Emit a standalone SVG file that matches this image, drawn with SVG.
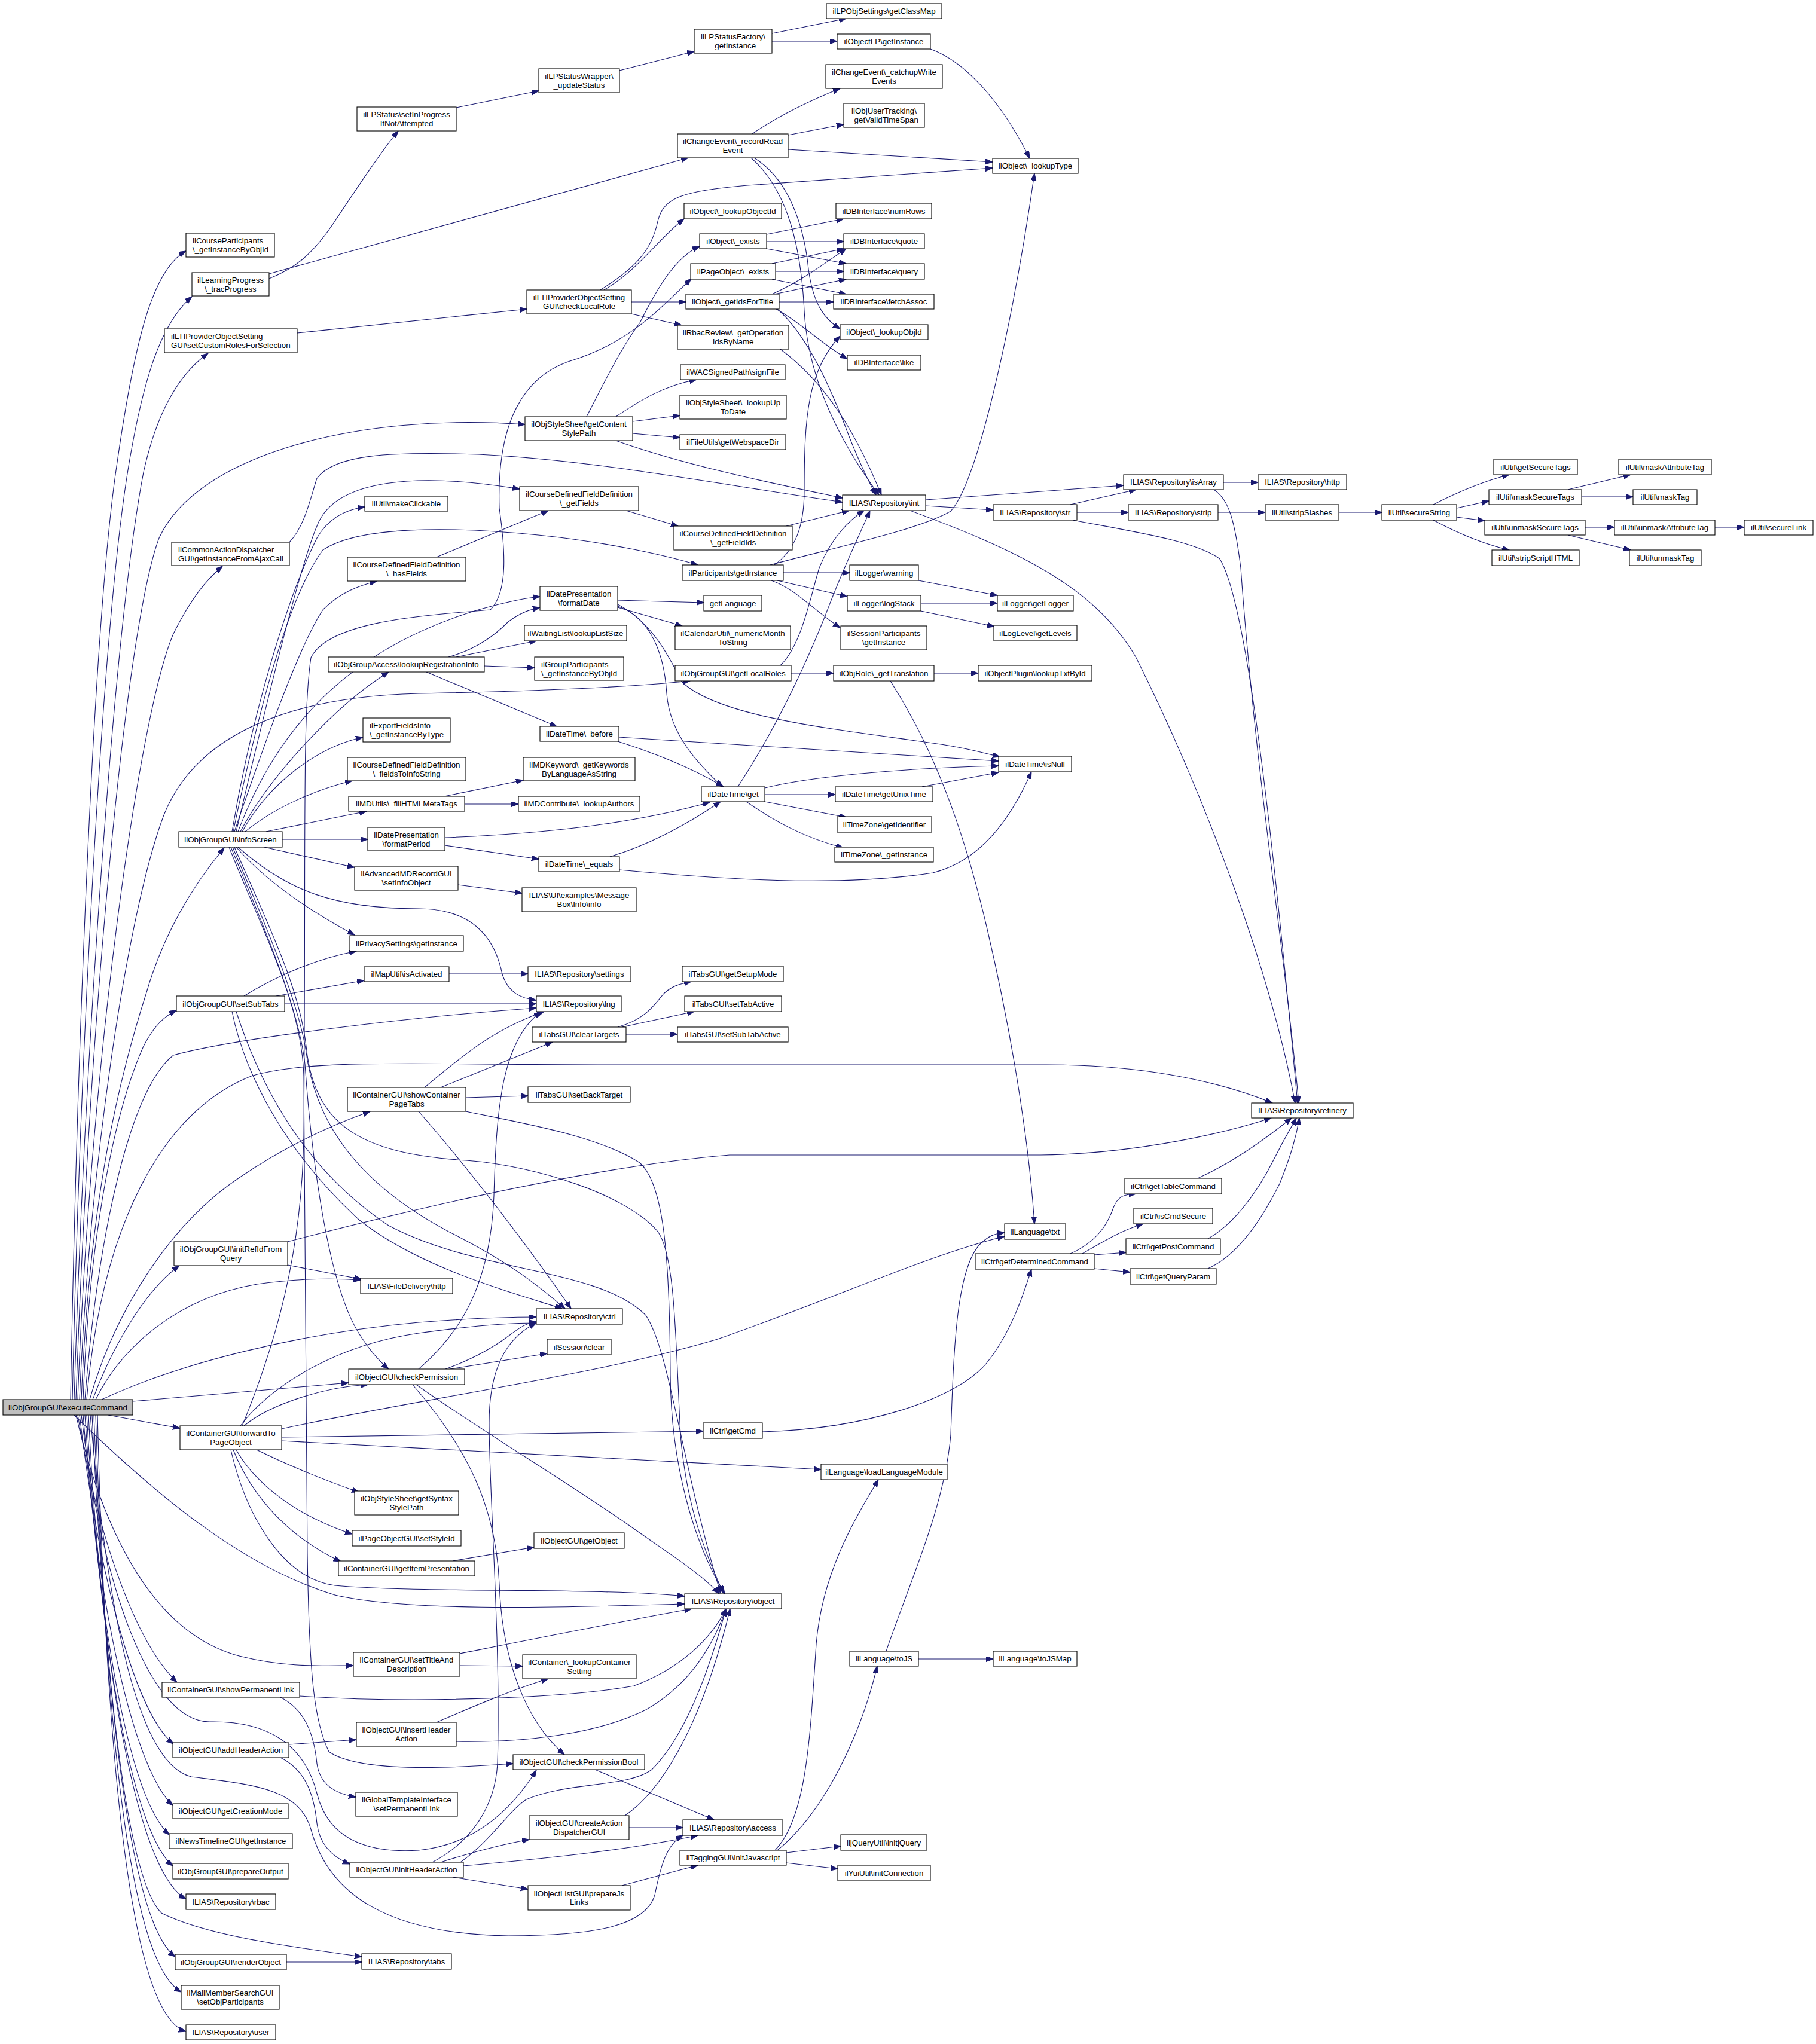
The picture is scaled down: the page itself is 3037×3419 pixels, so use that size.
<svg xmlns="http://www.w3.org/2000/svg" width="3037" height="3419" viewBox="0 0 3037 3419">
<defs>
<marker id="a" markerUnits="userSpaceOnUse" markerWidth="13" markerHeight="10" refX="12" refY="4.5" orient="auto"><path d="M0,0 L12,4.5 L0,9 z" fill="#191970" stroke="#191970" stroke-width="1"/></marker>
</defs>
<style>
.n rect{fill:#fff;stroke:#000;stroke-width:1.1}
.r rect{fill:#bfbfbf;stroke:#000;stroke-width:1.1}
text{font-family:"Liberation Sans",Arial,Helvetica,sans-serif;font-size:13.3px;fill:#000}
.c{text-anchor:middle}
#edges path{fill:none;stroke:#191970;stroke-width:1.1;marker-end:url(#a)}
</style>
<rect width="3037" height="3419" fill="#fff"/>
<g id="edges">
<path d="M118,2341 C128,1800 155,1050 195,780 C225,570 255,450 311,420"/>
<path d="M121,2341 C133,1800 170,1050 215,780 C240,630 270,540 321,496"/>
<path d="M124,2341 C140,1800 190,1050 240,790 C262,690 300,625 348,591"/>
<path d="M127,2341 C150,1700 210,1050 266,900 C330,760 600,690 878,710"/>
<path d="M130,2341 C150,1800 230,1200 290,1060 C320,1000 345,970 372,947"/>
<path d="M133,2341 C150,1950 210,1550 268,1380 C320,1220 500,1165 700,1160 C900,1156 1050,1150 1154,1139"/>
<path d="M136,2341 C150,2000 200,1800 245,1660 C280,1540 340,1460 375,1418"/>
<path d="M139,2341 C150,2050 195,1850 240,1750 C258,1715 275,1700 295,1690"/>
<path d="M142,2341 C165,2050 220,1820 290,1765 C400,1735 700,1700 897,1686"/>
<path d="M145,2341 C170,2050 270,1860 420,1800 C520,1770 700,1781 1000,1781 L1750,1781 C1900,1781 2030,1805 2128,1845"/>
<path d="M150,2341 C190,2200 280,2050 400,1970 C480,1915 560,1880 619,1859"/>
<path d="M155,2341 C185,2260 240,2160 300,2117"/>
<path d="M160,2341 C205,2250 300,2170 430,2148 C500,2138 560,2138 603,2141"/>
<path d="M170,2341 C300,2280 500,2230 700,2212 C800,2204 860,2203 897,2203"/>
<path d="M222,2344 L583,2313"/>
<path d="M181,2367 L301,2389"/>
<path d="M124,2367 C250,2490 400,2620 560,2668 C700,2700 1000,2686 1145,2683"/>
<path d="M127,2367 C170,2550 250,2730 400,2770 C480,2790 540,2786 591,2786"/>
<path d="M130,2367 C160,2550 220,2740 296,2814"/>
<path d="M133,2367 C160,2600 220,2860 290,2917"/>
<path d="M136,2367 C170,2650 250,2880 350,2880 C450,2878 510,2920 530,3000 C550,3080 620,3100 700,3095 C800,3085 860,3020 897,2961"/>
<path d="M139,2367 C165,2700 225,2960 289,3020"/>
<path d="M142,2367 C168,2750 220,3010 283,3069"/>
<path d="M145,2367 C170,2800 228,3070 289,3121"/>
<path d="M148,2367 C172,2850 240,3140 311,3176"/>
<path d="M151,2367 C180,2700 230,2950 320,2972 C420,2985 500,2990 520,3060 C550,3170 650,3235 850,3238 C1000,3238 1080,3220 1095,3170 C1105,3120 1115,3085 1142,3070"/>
<path d="M154,2367 C180,2900 220,3150 270,3200 C350,3240 500,3258 605,3273"/>
<path d="M157,2367 C180,2950 230,3225 293,3273"/>
<path d="M160,2367 C180,3000 230,3290 303,3332"/>
<path d="M163,2367 C180,3050 230,3375 311,3398"/>
<path d="M388,1391 C420,1200 480,1000 530,900 C550,865 580,852 610,848"/>
<path d="M392,1391 C440,1250 500,1080 540,1020 C570,990 600,980 630,972"/>
<path d="M395,1391 C440,1200 500,950 530,880 C560,800 700,790 869,818"/>
<path d="M398,1391 C470,1200 600,1080 800,1020 C850,1006 880,1000 903,998"/>
<path d="M402,1391 C450,1300 560,1180 650,1124"/>
<path d="M390,1391 C430,1200 480,1000 540,920 C600,880 750,880 900,895 C1000,905 1100,925 1167,945"/>
<path d="M405,1391 C450,1310 530,1250 607,1233"/>
<path d="M410,1391 C460,1350 530,1320 589,1306"/>
<path d="M445,1391 L613,1357"/>
<path d="M472,1404 L615,1404"/>
<path d="M442,1417 L593,1451"/>
<path d="M395,1417 C450,1480 530,1530 593,1564"/>
<path d="M398,1417 C480,1490 560,1520 700,1520 C800,1520 830,1580 840,1630 C850,1660 870,1670 897,1673"/>
<path d="M392,1417 C450,1550 500,1650 512,1750 C525,1880 600,1930 780,1941 C900,1950 1050,2000 1100,2060 C1130,2100 1130,2250 1138,2400 C1148,2520 1180,2600 1210,2665"/>
<path d="M389,1417 C450,1560 500,1680 512,1760 C528,1880 600,1980 750,2060 C850,2110 900,2150 945,2189"/>
<path d="M386,1417 C450,1570 500,1690 510,1780 C522,1950 550,2150 600,2230 C620,2262 638,2280 650,2290"/>
<path d="M383,1417 C440,1560 505,1680 508,1800 L514,2600 C517,2800 525,2880 550,2930 C600,2965 750,2958 858,2950"/>
<path d="M408,1666 C450,1640 520,1605 596,1591"/>
<path d="M462,1666 L609,1640"/>
<path d="M476,1679 L897,1679"/>
<path d="M388,1692 C410,1800 480,1930 600,2040 C700,2120 850,2160 940,2189"/>
<path d="M395,1692 C430,1800 500,1950 650,2050 C800,2130 1000,2120 1080,2200 C1120,2260 1140,2450 1205,2665"/>
<path d="M753,2290 L915,2264"/>
<path d="M745,2290 C800,2270 830,2250 850,2235 C870,2220 880,2213 897,2211"/>
<path d="M700,2290 C770,2230 820,2150 826,2000 C830,1850 840,1740 905,1692"/>
<path d="M696,2316 C800,2390 950,2480 1050,2550 C1120,2600 1170,2630 1203,2666"/>
<path d="M690,2316 C780,2420 830,2520 835,2650 C840,2780 880,2880 944,2935"/>
<path d="M737,1819 L924,1743"/>
<path d="M779,1836 L883,1833"/>
<path d="M710,1819 C780,1760 830,1720 910,1692"/>
<path d="M700,1859 C780,1950 880,2080 955,2189"/>
<path d="M779,1859 C880,1880 1000,1900 1070,1945 C1110,1980 1120,2100 1121,2300 C1122,2450 1160,2580 1212,2666"/>
<path d="M481,2116 L605,2140"/>
<path d="M481,2077 C700,2020 1000,1950 1220,1932 L1740,1932 C1900,1930 2050,1895 2126,1870"/>
<path d="M408,2385 C450,2350 540,2320 616,2316"/>
<path d="M402,2385 C450,2320 560,2250 700,2230 C800,2216 860,2213 897,2213"/>
<path d="M471,2390 C700,2340 1000,2300 1200,2240 C1400,2170 1550,2100 1680,2068"/>
<path d="M471,2404 L1176,2394"/>
<path d="M471,2410 C900,2430 1200,2450 1373,2458"/>
<path d="M429,2425 C480,2450 540,2475 600,2496"/>
<path d="M395,2425 C420,2470 480,2530 589,2566"/>
<path d="M390,2425 C420,2500 480,2570 570,2612"/>
<path d="M386,2425 C410,2530 470,2640 560,2652 C700,2665 1000,2655 1145,2670"/>
<path d="M405,2385 C460,2250 505,2100 508,1900 C512,1400 505,1200 520,1100 C550,1040 700,1030 820,1020 C850,990 845,920 835,850 C830,700 880,630 950,605 C1050,575 1100,520 1156,466"/>
<path d="M1315,3099 L1406,3088"/>
<path d="M1315,3116 L1401,3126"/>
<path d="M1300,3095 C1380,3030 1440,2900 1467,2787"/>
<path d="M1296,3095 C1350,3040 1355,2900 1365,2750 C1375,2630 1430,2540 1469,2475"/>
<path d="M1536,2775 L1661,2775"/>
<path d="M1482,2762 C1520,2650 1580,2520 1590,2400 C1595,2250 1600,2120 1640,2080 C1655,2066 1665,2063 1680,2062"/>
<path d="M1040,3154 L1167,3120"/>
<path d="M757,3140 L883,3160"/>
<path d="M775,3121 C900,3110 1050,3095 1167,3070"/>
<path d="M737,3115 C800,3095 840,3085 885,3077"/>
<path d="M770,3115 C820,3080 850,3030 880,3010 C950,2980 1050,2990 1090,2960 C1150,2900 1190,2780 1214,2691"/>
<path d="M723,3115 C790,3080 828,3020 832,2950 C838,2750 818,2500 818,2380 C818,2300 840,2240 897,2213"/>
<path d="M1052,3057 L1142,3057"/>
<path d="M1045,3037 C1100,3000 1170,2900 1221,2691"/>
<path d="M995,2960 L1194,3044"/>
<path d="M483,2918 L596,2910"/>
<path d="M469,2940 C510,2960 525,3000 530,3050 C535,3090 560,3108 585,3118"/>
<path d="M730,2881 C790,2855 860,2825 917,2808"/>
<path d="M763,2913 C880,2915 1000,2900 1080,2860 C1150,2820 1190,2760 1214,2691"/>
<path d="M769,2766 C900,2740 1050,2710 1157,2691"/>
<path d="M769,2786 L874,2787"/>
<path d="M501,2837 C700,2850 950,2840 1060,2820 C1140,2790 1190,2740 1214,2691"/>
<path d="M469,2839 C510,2860 525,2900 530,2950 C535,2985 560,3000 595,3006"/>
<path d="M479,3282 L605,3282"/>
<path d="M757,2611 L893,2588"/>
<path d="M450,466 C490,450 520,430 560,370 C600,310 640,250 666,219"/>
<path d="M450,458 L1151,264"/>
<path d="M763,180 L901,152"/>
<path d="M1036,118 L1161,86"/>
<path d="M1291,56 L1415,31"/>
<path d="M1291,69 L1400,69"/>
<path d="M1556,82 C1620,105 1680,180 1722,265"/>
<path d="M1258,224 C1300,195 1350,170 1405,148"/>
<path d="M1318,226 L1411,208"/>
<path d="M1318,250 L1660,271"/>
<path d="M1261,264 C1320,300 1345,380 1352,450 C1360,510 1380,535 1405,550"/>
<path d="M1256,264 C1320,320 1340,420 1345,520 C1352,650 1420,760 1470,828"/>
<path d="M1004,485 C1060,450 1090,420 1100,370 C1110,330 1140,320 1250,310 C1400,300 1550,290 1660,281"/>
<path d="M1010,485 C1070,450 1100,400 1144,366"/>
<path d="M1056,505 L1147,505"/>
<path d="M1056,525 L1140,544"/>
<path d="M497,557 L881,517"/>
<path d="M1282,392 L1411,366"/>
<path d="M1282,404 L1411,404"/>
<path d="M1282,416 L1415,441"/>
<path d="M1291,441 L1411,416"/>
<path d="M1297,454 L1411,454"/>
<path d="M1291,467 L1415,492"/>
<path d="M1291,492 C1340,470 1380,440 1415,416"/>
<path d="M1295,492 L1415,467"/>
<path d="M1303,505 L1394,505"/>
<path d="M1298,517 C1340,540 1380,580 1417,600"/>
<path d="M1300,517 C1350,560 1390,650 1420,730 C1440,780 1455,810 1465,828"/>
<path d="M1305,584 C1380,640 1430,720 1474,828"/>
<path d="M1030,697 C1070,670 1110,645 1165,635"/>
<path d="M1058,705 L1137,695"/>
<path d="M1058,725 L1137,732"/>
<path d="M1030,737 C1150,780 1300,810 1409,833"/>
<path d="M981,697 C1010,640 1040,580 1070,540 C1100,480 1130,430 1170,412"/>
<path d="M1047,854 L1134,880"/>
<path d="M730,932 L917,854"/>
<path d="M1315,880 L1420,854"/>
<path d="M1548,836 L1879,812"/>
<path d="M1548,846 L1661,853"/>
<path d="M1522,854 C1700,920 1830,980 1900,1100 C2000,1300 2120,1600 2166,1845"/>
<path d="M1790,844 L1900,819"/>
<path d="M1801,857 L1887,857"/>
<path d="M1794,870 C1900,890 2000,905 2040,935 C2080,1000 2120,1300 2170,1845"/>
<path d="M2046,807 L2104,807"/>
<path d="M2030,819 C2055,835 2065,870 2075,950 C2100,1300 2150,1600 2172,1845"/>
<path d="M2037,857 L2116,857"/>
<path d="M2239,857 L2311,857"/>
<path d="M2397,844 C2440,822 2480,805 2524,794"/>
<path d="M2436,850 L2490,838"/>
<path d="M2436,865 L2483,871"/>
<path d="M2397,870 C2440,893 2480,910 2524,920"/>
<path d="M2622,819 L2727,794"/>
<path d="M2645,831 L2731,831"/>
<path d="M2651,882 L2700,882"/>
<path d="M2622,895 L2727,920"/>
<path d="M2868,882 L2917,882"/>
<path d="M1310,958 L1421,958"/>
<path d="M1300,971 L1417,998"/>
<path d="M1290,971 C1330,985 1360,1020 1405,1050"/>
<path d="M1288,945 C1400,915 1540,885 1590,855 C1640,800 1700,500 1730,290"/>
<path d="M1295,945 C1330,920 1345,880 1345,820 C1345,700 1350,620 1405,562"/>
<path d="M1536,971 L1668,996"/>
<path d="M1540,1009 L1668,1009"/>
<path d="M1540,1022 L1663,1048"/>
<path d="M1033,1004 L1177,1008"/>
<path d="M1033,1016 L1141,1047"/>
<path d="M1033,1014 C1080,1030 1110,1080 1115,1160 C1120,1230 1170,1280 1208,1316"/>
<path d="M1033,1011 C1090,1040 1120,1100 1140,1140 C1200,1200 1400,1220 1560,1243 C1610,1250 1640,1258 1672,1266"/>
<path d="M750,1099 C800,1085 830,1060 850,1040 C870,1025 885,1020 903,1016"/>
<path d="M763,1099 L897,1072"/>
<path d="M810,1114 L894,1117"/>
<path d="M713,1124 L931,1215"/>
<path d="M1035,1233 L1670,1273"/>
<path d="M1033,1240 C1080,1255 1150,1280 1210,1316"/>
<path d="M744,1401 C900,1395 1050,1380 1187,1342"/>
<path d="M744,1414 L901,1437"/>
<path d="M1020,1433 C1080,1415 1140,1385 1205,1341"/>
<path d="M1036,1455 C1200,1470 1400,1485 1560,1460 C1640,1440 1690,1370 1725,1291"/>
<path d="M1234,1316 C1290,1230 1340,1130 1380,1030 C1410,950 1435,900 1455,854"/>
<path d="M1279,1318 C1350,1300 1500,1285 1670,1281"/>
<path d="M1279,1329 L1397,1329"/>
<path d="M1279,1341 L1415,1367"/>
<path d="M1248,1341 C1290,1370 1340,1400 1410,1418"/>
<path d="M1542,1316 L1670,1292"/>
<path d="M1323,1126 L1394,1126"/>
<path d="M1305,1113 C1340,1080 1355,1000 1370,950 C1390,900 1420,870 1445,854"/>
<path d="M1562,1126 L1636,1126"/>
<path d="M1489,1139 C1560,1250 1610,1380 1650,1550 C1690,1720 1720,1900 1730,2047"/>
<path d="M743,1332 L875,1305"/>
<path d="M777,1345 L867,1345"/>
<path d="M766,1480 L873,1494"/>
<path d="M751,1629 L883,1629"/>
<path d="M1033,1718 C1080,1705 1095,1680 1110,1662 C1125,1648 1140,1645 1156,1642"/>
<path d="M1040,1718 L1161,1692"/>
<path d="M1047,1730 L1133,1730"/>
<path d="M1275,2395 C1450,2390 1600,2340 1650,2280 C1690,2230 1710,2170 1725,2123"/>
<path d="M1790,2097 C1840,2075 1855,2040 1862,2020 C1870,2000 1880,1998 1900,1997"/>
<path d="M1810,2097 C1840,2080 1870,2060 1912,2047"/>
<path d="M1830,2099 L1883,2095"/>
<path d="M1830,2122 L1890,2128"/>
<path d="M2003,1971 C2060,1945 2110,1910 2160,1870"/>
<path d="M2020,2072 C2060,2050 2100,2000 2130,1940 C2150,1900 2160,1885 2168,1870"/>
<path d="M2020,2122 C2070,2100 2110,2040 2140,1980 C2160,1930 2168,1900 2173,1870"/>
<path d="M484,907 C510,880 520,830 530,800 C560,760 650,755 800,760 C1000,770 1200,810 1409,840"/>
</g>
<g id="n_E" class="r"><rect x="5" y="2341" width="217" height="26"/><text class="c" x="113.5" y="2358.6">ilObjGroupGUI\executeCommand</text></g>
<g id="n_CP" class="n"><rect x="311" y="390" width="148" height="40"/><text x="322" y="407">ilCourseParticipants</text><text x="322" y="421.5">\_getInstanceByObjId</text></g>
<g id="n_LP" class="n"><rect x="321" y="456" width="129" height="39"/><text class="c" x="385.5" y="473">ilLearningProgress</text><text class="c" x="385.5" y="487.5">\_tracProgress</text></g>
<g id="n_SCR" class="n"><rect x="275" y="550" width="222" height="40"/><text x="286" y="567">ilLTIProviderObjectSetting</text><text x="286" y="581.5">GUI\setCustomRolesForSelection</text></g>
<g id="n_SIP" class="n"><rect x="597" y="179" width="166" height="40"/><text class="c" x="680" y="196">ilLPStatus\setInProgress</text><text class="c" x="680" y="210.5">IfNotAttempted</text></g>
<g id="n_US" class="n"><rect x="901" y="115" width="135" height="40"/><text class="c" x="968.5" y="132">ilLPStatusWrapper\</text><text class="c" x="968.5" y="146.5">_updateStatus</text></g>
<g id="n_LPF" class="n"><rect x="1161" y="49" width="130" height="40"/><text class="c" x="1226" y="66">ilLPStatusFactory\</text><text class="c" x="1226" y="80.5">_getInstance</text></g>
<g id="n_GCM" class="n"><rect x="1382" y="6" width="193" height="25"/><text class="c" x="1478.5" y="23.1">ilLPObjSettings\getClassMap</text></g>
<g id="n_OLP" class="n"><rect x="1400" y="57" width="156" height="25"/><text class="c" x="1478" y="74.1">ilObjectLP\getInstance</text></g>
<g id="n_CWE" class="n"><rect x="1381" y="108" width="195" height="40"/><text class="c" x="1478.5" y="125">ilChangeEvent\_catchupWrite</text><text class="c" x="1478.5" y="139.5">Events</text></g>
<g id="n_GVT" class="n"><rect x="1411" y="173" width="135" height="40"/><text class="c" x="1478.5" y="190">ilObjUserTracking\</text><text class="c" x="1478.5" y="204.5">_getValidTimeSpan</text></g>
<g id="n_RRE" class="n"><rect x="1133" y="224" width="185" height="40"/><text class="c" x="1225.5" y="241">ilChangeEvent\_recordRead</text><text class="c" x="1225.5" y="255.5">Event</text></g>
<g id="n_LT" class="n"><rect x="1660" y="265" width="143" height="25"/><text class="c" x="1731.5" y="282.1">ilObject\_lookupType</text></g>
<g id="n_CLR" class="n"><rect x="881" y="485" width="175" height="40"/><text class="c" x="968.5" y="502">ilLTIProviderObjectSetting</text><text class="c" x="968.5" y="516.5">GUI\checkLocalRole</text></g>
<g id="n_LOI" class="n"><rect x="1144" y="340" width="163" height="26"/><text class="c" x="1225.5" y="357.6">ilObject\_lookupObjectId</text></g>
<g id="n_NR" class="n"><rect x="1398" y="340" width="160" height="26"/><text class="c" x="1478" y="357.6">ilDBInterface\numRows</text></g>
<g id="n_OEX" class="n"><rect x="1170" y="391" width="112" height="25"/><text class="c" x="1226" y="408.1">ilObject\_exists</text></g>
<g id="n_QU" class="n"><rect x="1411" y="391" width="135" height="25"/><text class="c" x="1478.5" y="408.1">ilDBInterface\quote</text></g>
<g id="n_PEX" class="n"><rect x="1155" y="441" width="142" height="26"/><text class="c" x="1226" y="458.6">ilPageObject\_exists</text></g>
<g id="n_QY" class="n"><rect x="1411" y="441" width="135" height="26"/><text class="c" x="1478.5" y="458.6">ilDBInterface\query</text></g>
<g id="n_GIT" class="n"><rect x="1147" y="492" width="156" height="25"/><text class="c" x="1225" y="509.1">ilObject\_getIdsForTitle</text></g>
<g id="n_FA" class="n"><rect x="1394" y="492" width="168" height="25"/><text class="c" x="1478" y="509.1">ilDBInterface\fetchAssoc</text></g>
<g id="n_RB" class="n"><rect x="1133" y="544" width="186" height="40"/><text class="c" x="1226" y="561">ilRbacReview\_getOperation</text><text class="c" x="1226" y="575.5">IdsByName</text></g>
<g id="n_LOJ" class="n"><rect x="1405" y="543" width="147" height="25"/><text class="c" x="1478.5" y="560.1">ilObject\_lookupObjId</text></g>
<g id="n_LK" class="n"><rect x="1417" y="594" width="123" height="25"/><text class="c" x="1478.5" y="611.1">ilDBInterface\like</text></g>
<g id="n_WAC" class="n"><rect x="1138" y="610" width="175" height="25"/><text class="c" x="1225.5" y="627.1">ilWACSignedPath\signFile</text></g>
<g id="n_LUT" class="n"><rect x="1137" y="661" width="178" height="40"/><text class="c" x="1226" y="678">ilObjStyleSheet\_lookupUp</text><text class="c" x="1226" y="692.5">ToDate</text></g>
<g id="n_CSP" class="n"><rect x="878" y="697" width="180" height="40"/><text class="c" x="968" y="714">ilObjStyleSheet\getContent</text><text class="c" x="968" y="728.5">StylePath</text></g>
<g id="n_WSD" class="n"><rect x="1137" y="727" width="177" height="25"/><text class="c" x="1225.5" y="744.1">ilFileUtils\getWebspaceDir</text></g>
<g id="n_GF" class="n"><rect x="869" y="814" width="199" height="40"/><text class="c" x="968.5" y="831">ilCourseDefinedFieldDefinition</text><text class="c" x="968.5" y="845.5">\_getFields</text></g>
<g id="n_MC" class="n"><rect x="610" y="830" width="139" height="25"/><text class="c" x="679.5" y="847.1">ilUtil\makeClickable</text></g>
<g id="n_INT" class="n"><rect x="1409" y="828" width="139" height="26"/><text class="c" x="1478.5" y="845.6">ILIAS\Repository\int</text></g>
<g id="n_ISA" class="n"><rect x="1879" y="794" width="167" height="25"/><text class="c" x="1962.5" y="811.1">ILIAS\Repository\isArray</text></g>
<g id="n_HTTP" class="n"><rect x="2104" y="794" width="148" height="25"/><text class="c" x="2178" y="811.1">ILIAS\Repository\http</text></g>
<g id="n_STR" class="n"><rect x="1661" y="844" width="140" height="26"/><text class="c" x="1731" y="861.6">ILIAS\Repository\str</text></g>
<g id="n_STP" class="n"><rect x="1887" y="844" width="150" height="26"/><text class="c" x="1962" y="861.6">ILIAS\Repository\strip</text></g>
<g id="n_SS" class="n"><rect x="2116" y="844" width="123" height="26"/><text class="c" x="2177.5" y="861.6">ilUtil\stripSlashes</text></g>
<g id="n_SEC" class="n"><rect x="2311" y="844" width="125" height="26"/><text class="c" x="2373.5" y="861.6">ilUtil\secureString</text></g>
<g id="n_GST" class="n"><rect x="2498" y="768" width="140" height="26"/><text class="c" x="2568" y="785.6">ilUtil\getSecureTags</text></g>
<g id="n_MAT" class="n"><rect x="2707" y="768" width="155" height="26"/><text class="c" x="2784.5" y="785.6">ilUtil\maskAttributeTag</text></g>
<g id="n_MST" class="n"><rect x="2490" y="819" width="155" height="25"/><text class="c" x="2567.5" y="836.1">ilUtil\maskSecureTags</text></g>
<g id="n_MT" class="n"><rect x="2731" y="819" width="107" height="25"/><text class="c" x="2784.5" y="836.1">ilUtil\maskTag</text></g>
<g id="n_UST" class="n"><rect x="2483" y="870" width="168" height="25"/><text class="c" x="2567" y="887.1">ilUtil\unmaskSecureTags</text></g>
<g id="n_UAT" class="n"><rect x="2700" y="870" width="168" height="25"/><text class="c" x="2784" y="887.1">ilUtil\unmaskAttributeTag</text></g>
<g id="n_SL" class="n"><rect x="2917" y="870" width="115" height="25"/><text class="c" x="2974.5" y="887.1">ilUtil\secureLink</text></g>
<g id="n_SSH" class="n"><rect x="2495" y="920" width="146" height="26"/><text class="c" x="2568" y="937.6">ilUtil\stripScriptHTML</text></g>
<g id="n_UT" class="n"><rect x="2725" y="920" width="120" height="26"/><text class="c" x="2785" y="937.6">ilUtil\unmaskTag</text></g>
<g id="n_GFI" class="n"><rect x="1127" y="880" width="198" height="40"/><text class="c" x="1226" y="897">ilCourseDefinedFieldDefinition</text><text class="c" x="1226" y="911.5">\_getFieldIds</text></g>
<g id="n_CAD" class="n"><rect x="287" y="907" width="197" height="39"/><text x="298" y="924">ilCommonActionDispatcher</text><text x="298" y="938.5">GUI\getInstanceFromAjaxCall</text></g>
<g id="n_HF" class="n"><rect x="581" y="932" width="198" height="40"/><text class="c" x="680" y="949">ilCourseDefinedFieldDefinition</text><text class="c" x="680" y="963.5">\_hasFields</text></g>
<g id="n_PGI" class="n"><rect x="1141" y="945" width="169" height="26"/><text class="c" x="1225.5" y="962.6">ilParticipants\getInstance</text></g>
<g id="n_LW" class="n"><rect x="1421" y="945" width="115" height="26"/><text class="c" x="1478.5" y="962.6">ilLogger\warning</text></g>
<g id="n_FD" class="n"><rect x="903" y="981" width="130" height="40"/><text class="c" x="968" y="998">ilDatePresentation</text><text class="c" x="968" y="1012.5">\formatDate</text></g>
<g id="n_GL" class="n"><rect x="1177" y="996" width="97" height="26"/><text class="c" x="1225.5" y="1013.6">getLanguage</text></g>
<g id="n_LS" class="n"><rect x="1417" y="996" width="123" height="26"/><text class="c" x="1478.5" y="1013.6">ilLogger\logStack</text></g>
<g id="n_GLG" class="n"><rect x="1668" y="996" width="127" height="26"/><text class="c" x="1731.5" y="1013.6">ilLogger\getLogger</text></g>
<g id="n_WL" class="n"><rect x="877" y="1046" width="171" height="26"/><text class="c" x="962.5" y="1063.6">ilWaitingList\lookupListSize</text></g>
<g id="n_CU" class="n"><rect x="1129" y="1047" width="193" height="40"/><text class="c" x="1225.5" y="1064">ilCalendarUtil\_numericMonth</text><text class="c" x="1225.5" y="1078.5">ToString</text></g>
<g id="n_SP" class="n"><rect x="1406" y="1047" width="144" height="40"/><text class="c" x="1478" y="1064">ilSessionParticipants</text><text class="c" x="1478" y="1078.5">\getInstance</text></g>
<g id="n_LL" class="n"><rect x="1662" y="1046" width="139" height="26"/><text class="c" x="1731.5" y="1063.6">ilLogLevel\getLevels</text></g>
<g id="n_LRI" class="n"><rect x="549" y="1099" width="261" height="25"/><text class="c" x="679.5" y="1116.1">ilObjGroupAccess\lookupRegistrationInfo</text></g>
<g id="n_GP" class="n"><rect x="894" y="1099" width="149" height="39"/><text x="905" y="1116">ilGroupParticipants</text><text x="905" y="1130.5">\_getInstanceByObjId</text></g>
<g id="n_GLR" class="n"><rect x="1129" y="1113" width="194" height="26"/><text class="c" x="1226" y="1130.6">ilObjGroupGUI\getLocalRoles</text></g>
<g id="n_ORT" class="n"><rect x="1394" y="1113" width="168" height="26"/><text class="c" x="1478" y="1130.6">ilObjRole\_getTranslation</text></g>
<g id="n_OPL" class="n"><rect x="1636" y="1113" width="190" height="26"/><text class="c" x="1731" y="1130.6">ilObjectPlugin\lookupTxtById</text></g>
<g id="n_EFI" class="n"><rect x="607" y="1201" width="146" height="40"/><text x="618" y="1218">ilExportFieldsInfo</text><text x="618" y="1232.5">\_getInstanceByType</text></g>
<g id="n_DTB" class="n"><rect x="903" y="1215" width="132" height="25"/><text class="c" x="969" y="1232.1">ilDateTime\_before</text></g>
<g id="n_FTI" class="n"><rect x="581" y="1267" width="198" height="39"/><text class="c" x="680" y="1284">ilCourseDefinedFieldDefinition</text><text class="c" x="680" y="1298.5">\_fieldsToInfoString</text></g>
<g id="n_MDK" class="n"><rect x="875" y="1267" width="187" height="39"/><text class="c" x="968.5" y="1284">ilMDKeyword\_getKeywords</text><text class="c" x="968.5" y="1298.5">ByLanguageAsString</text></g>
<g id="n_DTN" class="n"><rect x="1670" y="1265" width="122" height="26"/><text class="c" x="1731" y="1282.6">ilDateTime\isNull</text></g>
<g id="n_DTG" class="n"><rect x="1173" y="1316" width="106" height="25"/><text class="c" x="1226" y="1333.1">ilDateTime\get</text></g>
<g id="n_GUT" class="n"><rect x="1397" y="1316" width="163" height="25"/><text class="c" x="1478.5" y="1333.1">ilDateTime\getUnixTime</text></g>
<g id="n_MDU" class="n"><rect x="583" y="1332" width="194" height="25"/><text class="c" x="680" y="1349.1">ilMDUtils\_fillHTMLMetaTags</text></g>
<g id="n_MDC" class="n"><rect x="867" y="1332" width="203" height="25"/><text class="c" x="968.5" y="1349.1">ilMDContribute\_lookupAuthors</text></g>
<g id="n_TZI" class="n"><rect x="1400" y="1366" width="158" height="26"/><text class="c" x="1479" y="1383.6">ilTimeZone\getIdentifier</text></g>
<g id="n_IS" class="n"><rect x="299" y="1391" width="173" height="26"/><text class="c" x="385.5" y="1408.6">ilObjGroupGUI\infoScreen</text></g>
<g id="n_FP" class="n"><rect x="615" y="1384" width="129" height="39"/><text class="c" x="679.5" y="1401">ilDatePresentation</text><text class="c" x="679.5" y="1415.5">\formatPeriod</text></g>
<g id="n_TZG" class="n"><rect x="1396" y="1417" width="165" height="25"/><text class="c" x="1478.5" y="1434.1">ilTimeZone\_getInstance</text></g>
<g id="n_DTE" class="n"><rect x="901" y="1433" width="135" height="25"/><text class="c" x="968.5" y="1450.1">ilDateTime\_equals</text></g>
<g id="n_AMD" class="n"><rect x="593" y="1449" width="173" height="40"/><text class="c" x="679.5" y="1466">ilAdvancedMDRecordGUI</text><text class="c" x="679.5" y="1480.5">\setInfoObject</text></g>
<g id="n_MBI" class="n"><rect x="873" y="1485" width="191" height="40"/><text class="c" x="968.5" y="1502">ILIAS\UI\examples\Message</text><text class="c" x="968.5" y="1516.5">Box\Info\info</text></g>
<g id="n_PS" class="n"><rect x="585" y="1565" width="190" height="26"/><text class="c" x="680" y="1582.6">ilPrivacySettings\getInstance</text></g>
<g id="n_MU" class="n"><rect x="609" y="1617" width="142" height="25"/><text class="c" x="680" y="1634.1">ilMapUtil\isActivated</text></g>
<g id="n_SET" class="n"><rect x="883" y="1617" width="172" height="25"/><text class="c" x="969" y="1634.1">ILIAS\Repository\settings</text></g>
<g id="n_TGS" class="n"><rect x="1141" y="1616" width="169" height="26"/><text class="c" x="1225.5" y="1633.6">ilTabsGUI\getSetupMode</text></g>
<g id="n_SST" class="n"><rect x="295" y="1666" width="181" height="26"/><text class="c" x="385.5" y="1683.6">ilObjGroupGUI\setSubTabs</text></g>
<g id="n_LNG" class="n"><rect x="897" y="1666" width="142" height="26"/><text class="c" x="968" y="1683.6">ILIAS\Repository\lng</text></g>
<g id="n_TSA" class="n"><rect x="1145" y="1666" width="162" height="26"/><text class="c" x="1226" y="1683.6">ilTabsGUI\setTabActive</text></g>
<g id="n_CT" class="n"><rect x="890" y="1718" width="157" height="25"/><text class="c" x="968.5" y="1735.1">ilTabsGUI\clearTargets</text></g>
<g id="n_TSS" class="n"><rect x="1133" y="1718" width="185" height="25"/><text class="c" x="1225.5" y="1735.1">ilTabsGUI\setSubTabActive</text></g>
<g id="n_SCP" class="n"><rect x="581" y="1819" width="198" height="40"/><text class="c" x="680" y="1836">ilContainerGUI\showContainer</text><text class="c" x="680" y="1850.5">PageTabs</text></g>
<g id="n_SBT" class="n"><rect x="883" y="1818" width="171" height="26"/><text class="c" x="968.5" y="1835.6">ilTabsGUI\setBackTarget</text></g>
<g id="n_REF" class="n"><rect x="2093" y="1845" width="170" height="25"/><text class="c" x="2178" y="1862.1">ILIAS\Repository\refinery</text></g>
<g id="n_GTC" class="n"><rect x="1881" y="1971" width="162" height="26"/><text class="c" x="1962" y="1988.6">ilCtrl\getTableCommand</text></g>
<g id="n_ICS" class="n"><rect x="1896" y="2021" width="132" height="26"/><text class="c" x="1962" y="2038.6">ilCtrl\isCmdSecure</text></g>
<g id="n_TXT" class="n"><rect x="1680" y="2047" width="102" height="26"/><text class="c" x="1731" y="2064.6">ilLanguage\txt</text></g>
<g id="n_GPC" class="n"><rect x="1883" y="2072" width="158" height="26"/><text class="c" x="1962" y="2089.6">ilCtrl\getPostCommand</text></g>
<g id="n_GDC" class="n"><rect x="1631" y="2097" width="199" height="26"/><text class="c" x="1730.5" y="2114.6">ilCtrl\getDeterminedCommand</text></g>
<g id="n_GQP" class="n"><rect x="1890" y="2122" width="144" height="26"/><text class="c" x="1962" y="2139.6">ilCtrl\getQueryParam</text></g>
<g id="n_IRQ" class="n"><rect x="291" y="2077" width="190" height="40"/><text class="c" x="386" y="2094">ilObjGroupGUI\initRefIdFrom</text><text class="c" x="386" y="2108.5">Query</text></g>
<g id="n_FDH" class="n"><rect x="603" y="2138" width="154" height="26"/><text class="c" x="680" y="2155.6">ILIAS\FileDelivery\http</text></g>
<g id="n_CTRL" class="n"><rect x="897" y="2189" width="144" height="26"/><text class="c" x="969" y="2206.6">ILIAS\Repository\ctrl</text></g>
<g id="n_SC" class="n"><rect x="915" y="2240" width="107" height="26"/><text class="c" x="968.5" y="2257.6">ilSession\clear</text></g>
<g id="n_CPM" class="n"><rect x="583" y="2290" width="194" height="26"/><text class="c" x="680" y="2307.6">ilObjectGUI\checkPermission</text></g>
<g id="n_FWD" class="n"><rect x="301" y="2385" width="170" height="40"/><text class="c" x="386" y="2402">ilContainerGUI\forwardTo</text><text class="c" x="386" y="2416.5">PageObject</text></g>
<g id="n_GCMD" class="n"><rect x="1176" y="2380" width="99" height="26"/><text class="c" x="1225.5" y="2397.6">ilCtrl\getCmd</text></g>
<g id="n_LLM" class="n"><rect x="1373" y="2449" width="211" height="26"/><text class="c" x="1478.5" y="2466.6">ilLanguage\loadLanguageModule</text></g>
<g id="n_SSP" class="n"><rect x="593" y="2494" width="174" height="40"/><text class="c" x="680" y="2511">ilObjStyleSheet\getSyntax</text><text class="c" x="680" y="2525.5">StylePath</text></g>
<g id="n_PSI" class="n"><rect x="589" y="2560" width="182" height="26"/><text class="c" x="680" y="2577.6">ilPageObjectGUI\setStyleId</text></g>
<g id="n_GO" class="n"><rect x="893" y="2564" width="151" height="26"/><text class="c" x="968.5" y="2581.6">ilObjectGUI\getObject</text></g>
<g id="n_GIP" class="n"><rect x="566" y="2611" width="228" height="25"/><text class="c" x="680" y="2628.1">ilContainerGUI\getItemPresentation</text></g>
<g id="n_OBJ" class="n"><rect x="1145" y="2666" width="162" height="25"/><text class="c" x="1226" y="2683.1">ILIAS\Repository\object</text></g>
<g id="n_STD" class="n"><rect x="591" y="2764" width="178" height="40"/><text class="c" x="680" y="2781">ilContainerGUI\setTitleAnd</text><text class="c" x="680" y="2795.5">Description</text></g>
<g id="n_LCS" class="n"><rect x="874" y="2768" width="190" height="40"/><text class="c" x="969" y="2785">ilContainer\_lookupContainer</text><text class="c" x="969" y="2799.5">Setting</text></g>
<g id="n_TJS" class="n"><rect x="1421" y="2762" width="115" height="25"/><text class="c" x="1478.5" y="2779.1">ilLanguage\toJS</text></g>
<g id="n_TJM" class="n"><rect x="1661" y="2762" width="140" height="25"/><text class="c" x="1731" y="2779.1">ilLanguage\toJSMap</text></g>
<g id="n_SPL" class="n"><rect x="271" y="2814" width="230" height="25"/><text class="c" x="386" y="2831.1">ilContainerGUI\showPermanentLink</text></g>
<g id="n_IHA" class="n"><rect x="596" y="2881" width="167" height="40"/><text class="c" x="679.5" y="2898">ilObjectGUI\insertHeader</text><text class="c" x="679.5" y="2912.5">Action</text></g>
<g id="n_AHA" class="n"><rect x="289" y="2915" width="194" height="25"/><text class="c" x="386" y="2932.1">ilObjectGUI\addHeaderAction</text></g>
<g id="n_CPB" class="n"><rect x="858" y="2935" width="220" height="25"/><text class="c" x="968" y="2952.1">ilObjectGUI\checkPermissionBool</text></g>
<g id="n_GTI" class="n"><rect x="595" y="2998" width="170" height="40"/><text class="c" x="680" y="3015">ilGlobalTemplateInterface</text><text class="c" x="680" y="3029.5">\setPermanentLink</text></g>
<g id="n_GCR" class="n"><rect x="289" y="3017" width="193" height="25"/><text class="c" x="385.5" y="3034.1">ilObjectGUI\getCreationMode</text></g>
<g id="n_CAG" class="n"><rect x="885" y="3037" width="167" height="40"/><text class="c" x="968.5" y="3054">ilObjectGUI\createAction</text><text class="c" x="968.5" y="3068.5">DispatcherGUI</text></g>
<g id="n_ACC" class="n"><rect x="1142" y="3044" width="167" height="26"/><text class="c" x="1225.5" y="3061.6">ILIAS\Repository\access</text></g>
<g id="n_NTG" class="n"><rect x="283" y="3067" width="206" height="25"/><text class="c" x="386" y="3084.1">ilNewsTimelineGUI\getInstance</text></g>
<g id="n_JQ" class="n"><rect x="1406" y="3069" width="144" height="26"/><text class="c" x="1478" y="3086.6">iljQueryUtil\initjQuery</text></g>
<g id="n_TAG" class="n"><rect x="1137" y="3095" width="178" height="25"/><text class="c" x="1226" y="3112.1">ilTaggingGUI\initJavascript</text></g>
<g id="n_PO" class="n"><rect x="289" y="3117" width="193" height="26"/><text class="c" x="385.5" y="3134.6">ilObjGroupGUI\prepareOutput</text></g>
<g id="n_IHAI" class="n"><rect x="585" y="3115" width="190" height="25"/><text class="c" x="680" y="3132.1">ilObjectGUI\initHeaderAction</text></g>
<g id="n_YUI" class="n"><rect x="1401" y="3120" width="155" height="26"/><text class="c" x="1478.5" y="3137.6">ilYuiUtil\initConnection</text></g>
<g id="n_PJS" class="n"><rect x="883" y="3154" width="171" height="41"/><text class="c" x="968.5" y="3171.5">ilObjectListGUI\prepareJs</text><text class="c" x="968.5" y="3186">Links</text></g>
<g id="n_RBAC" class="n"><rect x="311" y="3168" width="150" height="26"/><text class="c" x="386" y="3185.6">ILIAS\Repository\rbac</text></g>
<g id="n_RO" class="n"><rect x="293" y="3269" width="186" height="26"/><text class="c" x="386" y="3286.6">ilObjGroupGUI\renderObject</text></g>
<g id="n_TABS" class="n"><rect x="605" y="3268" width="150" height="26"/><text class="c" x="680" y="3285.6">ILIAS\Repository\tabs</text></g>
<g id="n_MMS" class="n"><rect x="303" y="3321" width="164" height="40"/><text class="c" x="385" y="3338">ilMailMemberSearchGUI</text><text class="c" x="385" y="3352.5">\setObjParticipants</text></g>
<g id="n_USR" class="n"><rect x="311" y="3387" width="150" height="25"/><text class="c" x="386" y="3404.1">ILIAS\Repository\user</text></g>
</svg>
